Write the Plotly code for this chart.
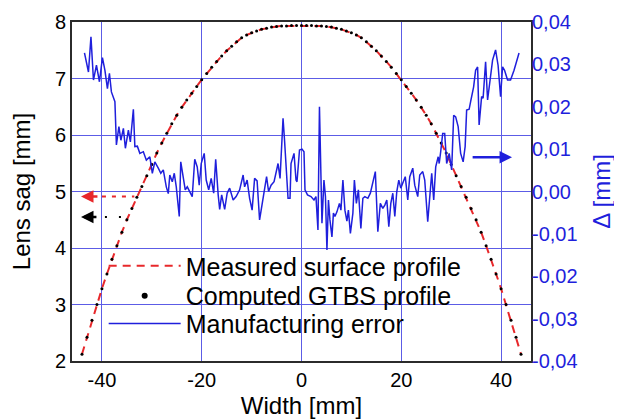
import plotly.graph_objects as go

# ---- data ----
width_mm = list(range(-44, 45))
sag_measured = [2.12, 2.42, 2.72, 3.00, 3.28, 3.54, 3.80, 4.04, 4.28, 4.50, 4.70, 4.90, 5.09, 5.28, 5.48,
                5.68, 5.86, 6.03, 6.20, 6.35, 6.49, 6.62, 6.74, 6.86, 6.98, 7.09, 7.20, 7.30, 7.40, 7.49,
                7.57, 7.65, 7.72, 7.77, 7.81, 7.84, 7.87, 7.89, 7.91, 7.92, 7.93, 7.93, 7.94, 7.94, 7.94,
                7.94, 7.94, 7.93, 7.93, 7.92, 7.91, 7.89, 7.87, 7.84, 7.81, 7.77, 7.72, 7.65, 7.57, 7.49,
                7.40, 7.30, 7.20, 7.09, 6.98, 6.86, 6.74, 6.62, 6.49, 6.35, 6.20, 6.03, 5.86, 5.68, 5.48,
                5.28, 5.09, 4.90, 4.70, 4.50, 4.28, 4.04, 3.80, 3.54, 3.28, 3.00, 2.72, 2.42, 2.12]
sag_computed = [2.12, 2.42, 2.72, 3.00, 3.28, 3.54, 3.80, 4.04, 4.28, 4.50, 4.70, 4.90, 5.09, 5.28, 5.48,
                5.68, 5.86, 6.03, 6.20, 6.35, 6.49, 6.62, 6.74, 6.86, 6.98, 7.09, 7.20, 7.30, 7.40, 7.49,
                7.57, 7.65, 7.72, 7.77, 7.81, 7.84, 7.87, 7.89, 7.91, 7.92, 7.93, 7.93, 7.94, 7.94, 7.94,
                7.94, 7.94, 7.93, 7.93, 7.92, 7.91, 7.89, 7.87, 7.84, 7.81, 7.77, 7.72, 7.65, 7.57, 7.49,
                7.40, 7.30, 7.20, 7.09, 6.98, 6.86, 6.74, 6.62, 6.49, 6.35, 6.20, 6.03, 5.86, 5.68, 5.48,
                5.28, 5.09, 4.90, 4.70, 4.50, 4.28, 4.04, 3.80, 3.54, 3.28, 3.00, 2.72, 2.42, 2.12]

error_x = [-43.5, -42.7, -42.2, -41.7, -41.1, -40.5, -39.9, -39.4, -38.9, -38.5, -38.1, -37.4, -37.1, -36.6,
           -36.2, -35.7, -35.3, -34.7, -34.3, -33.7, -33.4, -32.9, -32.4, -31.7, -31.1, -30.4, -29.9, -29.4,
           -28.7, -28.2, -27.7, -27.1, -26.7,
           -26.4, -25.9, -25.5, -25.1, -24.5, -24.2, -23.7, -23.3, -22.9, -22.4, -21.9, -21.4, -20.9, -20.5,
           -20.1, -19.5, -19.1, -18.6, -18.1, -17.6, -17.2, -16.7, -16.4, -16.0, -15.4, -14.9, -14.4, -13.7,
           -13.1, -12.4, -11.7, -11.4, -10.9, -10.4, -9.9, -9.4, -8.9, -8.4,
           -7.9, -7.4, -7.0, -6.6, -6.1, -5.5, -5.1, -4.7, -4.3, -4.1, -3.7, -3.4, -3.1, -2.7, -2.3, -2.1,
           -1.5, -1.1, -0.9, -0.4, 0.1, 0.5, 0.7, 1.2, 1.9, 2.5, 2.9, 3.3, 3.6, 3.8, 4.1, 4.5, 4.8, 5.1,
           5.4, 5.7, 6.1, 6.4, 6.7, 7.1, 7.6, 7.9, 8.3, 8.7, 9.1,
           9.4, 9.8, 10.3, 10.6, 11.0, 11.4, 11.9, 12.3, 12.7, 13.3, 13.8, 14.3, 14.8, 15.3, 15.8, 16.3,
           16.7, 17.1, 17.5, 17.9, 18.3, 18.7, 19.1, 19.5, 19.9, 20.4, 20.8, 21.3, 21.7, 22.3, 22.7, 23.3,
           23.7, 24.3, 24.7, 25.3, 25.7, 26.1, 26.5,
           26.9, 27.4, 27.6, 27.9, 28.3, 28.7, 29.1, 29.6, 30.1, 30.5, 30.9, 31.4, 31.9, 32.4, 32.8, 33.1,
           33.6, 33.9, 34.5, 34.9, 35.3, 35.6, 36.1, 36.4, 36.9, 37.3, 37.6, 37.9, 38.3, 38.9, 39.4, 39.9,
           40.3, 40.7, 41.3, 41.9, 42.6, 43.6]
error_um = [32.7, 28.2, 36.5, 26.3, 29.8, 25.9, 31.6, 28.6, 24.3, 27.9, 23.5, 21.2, 11.0, 15.3, 12.1, 14.9,
            10.2, 14.5, 11.7, 19.4, 10.6, 10.7, 9.0, 9.4, 7.4, 8.2, 4.3, 7.0, 5.5, 4.3, 5.1, 1.1, -0.5,
            3.9, 2.3, 4.3, 1.1, -5.9, 7.0, 3.1, 0.4, 1.1, 0.0, -1.2, 7.6, 5.8, 1.5, 6.6, 9.0, 2.7, 0.4,
            3.1, -0.4, 7.6, -0.8, -4.2, -0.8, -4.2, -0.4, 0.8, -2.0, -1.2, 0.4, 3.9, 1.1, 2.7, -1.6, -4.4,
            3.1, 2.5, -6.7,
            -3.2, 0.8, 3.5, 0.0, 1.5, 2.3, 4.3, 6.6, 3.1, 9.0, 17.3, 12.1, 5.8, -1.6, -1.6, 6.6, 9.0, 2.7,
            2.3, 9.8, 10.0, 9.4, 0.4, -0.8, -1.2, -2.0, -1.2, -9.1, 20.0, 10.6, -7.5, 2.7, -1.2, -13.8,
            -2.0, -6.7, -10.7, -5.1, -5.9, -4.8, -2.8, -4.4, 2.7, -4.4, -7.0,
            -4.4, -9.9, -5.1, 2.7, -2.8, 0.4, -8.7, -1.6, -1.2, -1.6, -0.4, 1.9, 4.7, -9.5, -2.8, -4.0,
            -3.2, -2.0, -8.3, -2.8, -0.4, -5.9, 0.0, 2.7, 0.8, 2.3, 3.5, -2.0, 3.5, 5.5, 1.5, -1.2, 3.9,
            4.7, 2.7, -7.1, -0.4, 4.3, -2.0,
            5.8, 8.2, 6.6, 9.4, 13.7, 13.7, 6.6, 9.0, 5.1, 18.0, 17.6, 15.3, 9.0, 7.0, 10.6, 19.2, 19.4,
            21.2, 24.7, 28.6, 29.4, 15.7, 22.4, 22.0, 30.6, 21.6, 24.7, 26.7, 31.0, 33.4, 29.8, 22.4, 29.4,
            28.6, 26.3, 26.3, 28.6, 32.7]
error_mm = [v / 1000.0 for v in error_um]

x_ticks = [-40, -20, 0, 20, 40]
x_ticktext = ["-40", "-20", "0", "20", "40"]
sag_ticks = [2, 3, 4, 5, 6, 7, 8]
err_ticks = [-0.04, -0.03, -0.02, -0.01, 0.0, 0.01, 0.02, 0.03, 0.04]
err_ticktext = ["-0,04", "-0,03", "-0,02", "-0,01", "0,00", "0,01", "0,02", "0,03", "0,04"]

# ---- styles ----
FONT = "Arial, Liberation Sans, sans-serif"
BLUE = "#1f1fdc"
GRID = "#5c5ce6"
AXIS = "#2b2b2b"
RED = "#e8282b"

fig = go.Figure()
fig.add_trace(go.Scatter(x=width_mm, y=sag_measured, mode="lines", name="Measured surface profile",
                         line=dict(color=RED, width=2, dash="8px,6px"), legend="legend"))
fig.add_trace(go.Scatter(x=width_mm, y=sag_computed, mode="markers", name="Computed GTBS profile",
                         marker=dict(color="black", size=3), showlegend=False))
fig.add_trace(go.Scatter(x=[None], y=[None], mode="markers", name="Computed GTBS profile",
                         marker=dict(color="black", size=6), legend="legend2"))
fig.add_trace(go.Scatter(x=error_x, y=error_mm, mode="lines", name="Manufacturing error",
                         line=dict(color=BLUE, width=1.5), yaxis="y2", legend="legend3"))

# arrows showing which axis each curve belongs to
fig.add_shape(type="line", x0=-40.0, x1=-33.5, y0=4.91, y1=4.91, xref="x", yref="y",
              line=dict(color=RED, width=2, dash="4px,6px"))
fig.add_shape(type="line", x0=-39.4, x1=-34.5, y0=4.55, y1=4.55, xref="x", yref="y",
              line=dict(color="black", width=2, dash="2px,12px"))
fig.add_annotation(x=-44.2, y=4.91, ax=-40.6, ay=4.91, xref="x", yref="y", axref="x", ayref="y",
                   text="", showarrow=True, arrowhead=2, arrowsize=1.0, arrowwidth=2.5, arrowcolor=RED)
fig.add_annotation(x=-44.2, y=4.55, ax=-40.8, ay=4.55, xref="x", yref="y", axref="x", ayref="y",
                   text="", showarrow=True, arrowhead=2, arrowsize=1.0, arrowwidth=2.5, arrowcolor="black")
fig.add_annotation(x=42.2, y=0.0081, ax=34, ay=0.0081, xref="x", yref="y2", axref="x", ayref="y2",
                   text="", showarrow=True, arrowhead=2, arrowsize=1.0, arrowwidth=2.5, arrowcolor=BLUE)

LEG = dict(xanchor="left", yanchor="middle", bgcolor="rgba(0,0,0,0)",
           font=dict(size=25, color="black", family=FONT), itemwidth=72)

# the page body adds an 8 px offset, so the figure is 8 px smaller than the window
fig.update_layout(
    width=614, height=411,
    margin=dict(l=64, r=91, t=14, b=58),
    paper_bgcolor="white", plot_bgcolor="white",
    font=dict(family=FONT, size=20, color="black"),
    showlegend=True,
    legend=dict(x=0.069, y=0.280, **LEG),
    legend2=dict(x=0.069, y=0.192, **LEG),
    legend3=dict(x=0.069, y=0.110, **LEG),
    xaxis=dict(range=[-46, 46], tickvals=x_ticks, ticktext=x_ticktext, showgrid=True,
               gridcolor=GRID, gridwidth=1, zeroline=False, showline=True, linecolor=AXIS,
               linewidth=2, mirror=True, ticks="", tickfont=dict(size=20), automargin=False,
               title=dict(text="Width [mm]", font=dict(size=24), standoff=8)),
    yaxis=dict(range=[2, 8], tickvals=sag_ticks, showgrid=True, gridcolor=GRID, gridwidth=1,
               zeroline=False, showline=True, linecolor=AXIS, linewidth=2, mirror=True, ticks="",
               tickfont=dict(size=20), automargin=False,
               title=dict(text="Lens sag [mm]", font=dict(size=24), standoff=18)),
    yaxis2=dict(range=[-0.04, 0.04], tickvals=err_ticks, ticktext=err_ticktext, overlaying="y",
                side="right", showgrid=False, zeroline=False, showline=False, ticks="",
                tickfont=dict(size=20, color=BLUE), automargin=False,
                title=dict(text="Δ [mm]", font=dict(size=24, color=BLUE), standoff=16)),
)

fig.write_html("out.html")
